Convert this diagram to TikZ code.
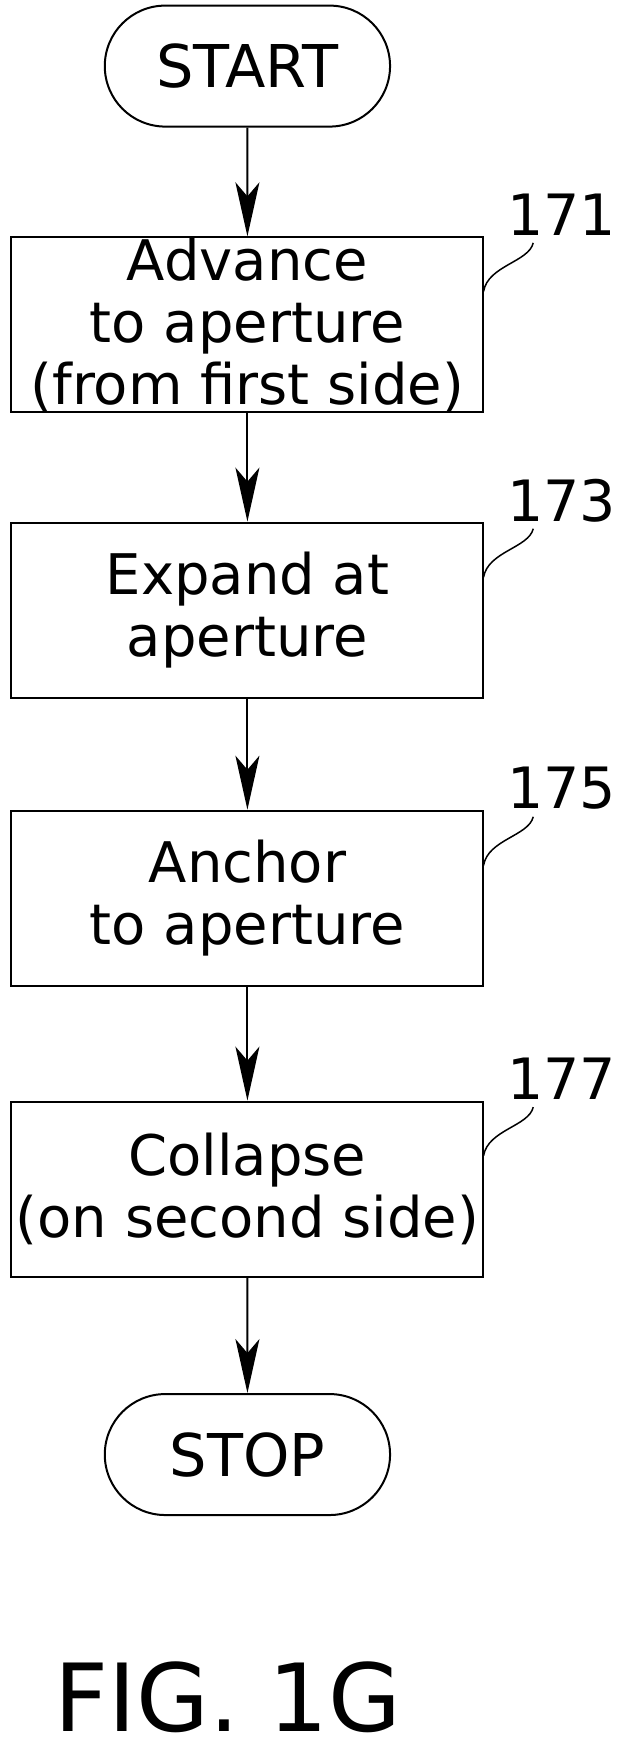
\documentclass[tikz,border=0pt]{standalone}
\usepackage{fontspec}
\setmainfont{DejaVu Sans}
\usetikzlibrary{arrows.meta,shapes.misc}
\begin{document}
\begin{tikzpicture}[x=1.13pt,y=-1.13pt,
  box/.style={draw,line width=2pt,minimum width=472pt,minimum height=175pt,align=center,font=\fontsize{56}{62}\selectfont,inner sep=0pt},
  term/.style={draw,line width=2pt,rounded rectangle,minimum width=292pt,minimum height=121pt,font=\fontsize{59}{62}\selectfont},
  arr/.style={line width=2pt,-{Stealth[length=54pt,width=24pt,inset=14pt]}},
  lbl/.style={font=\fontsize{57}{62}\selectfont},
  lead/.style={line width=1.5pt}]
\useasboundingbox (0,0) rectangle (550,1557);
\node[term] (start) at (219,58.5) {START};
\node[box] (b171) at (219,287.5) {Advance\\to aperture\\(from first side)};
\node[box] (b173) at (219,540) {Expand at\\aperture};
\node[box] (b175) at (219,795) {Anchor\\to aperture};
\node[box] (b177) at (219,1052.5) {Collapse\\(on second side)};
\node[term] (stop) at (219,1287.5) {STOP};
\node[font=\fontsize{94}{100}\selectfont] (fig) at (202,1502) {FIG. 1G};
\foreach \a/\b in {start/b171,b171/b173,b173/b175,b175/b177,b177/stop}
  \draw[arr] (\a) -- (\b);
\foreach \n/\y in {171/210,173/463,175/718,177/975}{
  \node[lbl] (l\n) at (497,\y-20) {\n};
  \coordinate (c\n) at (472,\y+5);
  \draw[lead] (428,\y+48) .. controls (432,\y+25) and (468,\y+22) .. (c\n);
}
\end{tikzpicture}
\end{document}
